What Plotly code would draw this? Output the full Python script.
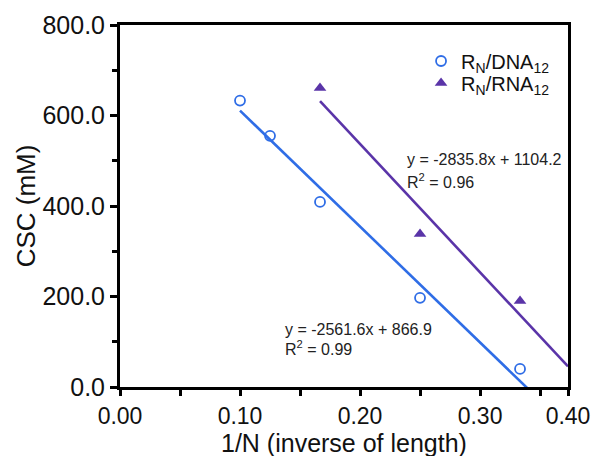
import numpy as np
import plotly.graph_objects as go

# Critical salt concentration versus inverse oligo length
dna_x = [1/10, 1/8, 1/6, 1/4, 1/3]
dna_y = [633, 555, 409, 197, 40]
rna_x = [1/6, 1/4, 1/3]
rna_y = [661, 338, 190]

# Linear fits (slope, intercept, R^2)
dna_fit = (-2561.6, 866.9, 0.99)
rna_fit = (-2835.8, 1104.2, 0.96)

x_end = 0.3733  # right end of the x axis
x_ticks = [0.0, 0.1, 0.2, 0.3, x_end]
x_ticktext = ["0.00", "0.10", "0.20", "0.30", "0.40"]
x_minor = [0.05, 0.15, 0.25, 0.35]

blue = "#2f6de6"
purple = "#5a34a8"
font = "Liberation Sans, Arial, sans-serif"

fig = go.Figure()

# Fit lines from first data point to the right edge of the axis
for xs, (m, b, _), col in [(dna_x, dna_fit, blue), (rna_x, rna_fit, purple)]:
    lx = np.array([min(xs), x_end])
    fig.add_trace(go.Scatter(x=lx, y=m * lx + b, mode="lines",
                             line=dict(color=col, width=2.6),
                             showlegend=False, hoverinfo="skip"))

fig.add_trace(go.Scatter(
    x=dna_x, y=dna_y, mode="markers", name="R<sub>N</sub>/DNA<sub>12</sub>",
    legend="legend",
    marker=dict(symbol="circle-open", size=10, color=blue, line=dict(width=1.8, color=blue))))
fig.add_trace(go.Scatter(
    x=rna_x, y=rna_y, mode="markers", name="R<sub>N</sub>/RNA<sub>12</sub>",
    legend="legend2",
    marker=dict(symbol="triangle-up", size=11, color=purple)))

# Fit equations, one annotation per line
ann_font = dict(family=font, size=16, color="#222")
for (m, b, r2), x0, y1, y2 in [(rna_fit, 0.2375, 502, 456), (dna_fit, 0.136, 128, 86)]:
    fig.add_annotation(x=x0, y=y1, xref="x", yref="y", text=f"y = {m:.1f}x + {b:.1f}",
                       showarrow=False, xanchor="left", yanchor="middle", font=ann_font)
    fig.add_annotation(x=x0, y=y2, xref="x", yref="y", text=f"R<sup>2</sup> = {r2:.2f}",
                       showarrow=False, xanchor="left", yanchor="middle", font=ann_font)

# x-axis title placed below the tick labels
fig.add_annotation(x=0.5, y=-0.155, xref="paper", yref="paper",
                   text="1/N (inverse of length)", showarrow=False,
                   xanchor="center", yanchor="middle",
                   font=dict(family=font, size=25, color="#111"))

leg_common = dict(x=0.672, xanchor="left", yanchor="middle",
                  bgcolor="rgba(0,0,0,0)", font=dict(size=20, family=font, color="#111"),
                  itemwidth=30)

fig.update_layout(
    width=599, height=456,
    margin=dict(l=120, r=31, t=25, b=69),
    paper_bgcolor="white", plot_bgcolor="white",
    font=dict(family=font, color="#111"),
    showlegend=True,
    legend=dict(y=0.9006, **leg_common),
    legend2=dict(y=0.8398, **leg_common),
)

fig.update_xaxes(
    range=[0, x_end], tickvals=x_ticks, ticktext=x_ticktext, automargin=False,
    showgrid=False, zeroline=False,
    showline=True, linecolor="black", linewidth=3, mirror=True,
    ticks="outside", ticklen=6, tickwidth=2.5, tickcolor="black",
    tickfont=dict(size=23),
    minor=dict(tickvals=x_minor, ticks="outside", ticklen=6, tickwidth=2.5, tickcolor="black"),
)
fig.update_yaxes(
    range=[0, 800], dtick=200, tickformat=".1f", automargin=False,
    showgrid=False, zeroline=False,
    showline=True, linecolor="black", linewidth=3, mirror=True,
    ticks="outside", ticklen=7, tickwidth=2.5, tickcolor="black",
    tickfont=dict(size=25),
    minor=dict(dtick=100, ticks="outside", ticklen=5, tickwidth=2.5, tickcolor="black"),
    title=dict(text="CSC (mM)", font=dict(size=26), standoff=0),
)

fig.write_html("out.html")
